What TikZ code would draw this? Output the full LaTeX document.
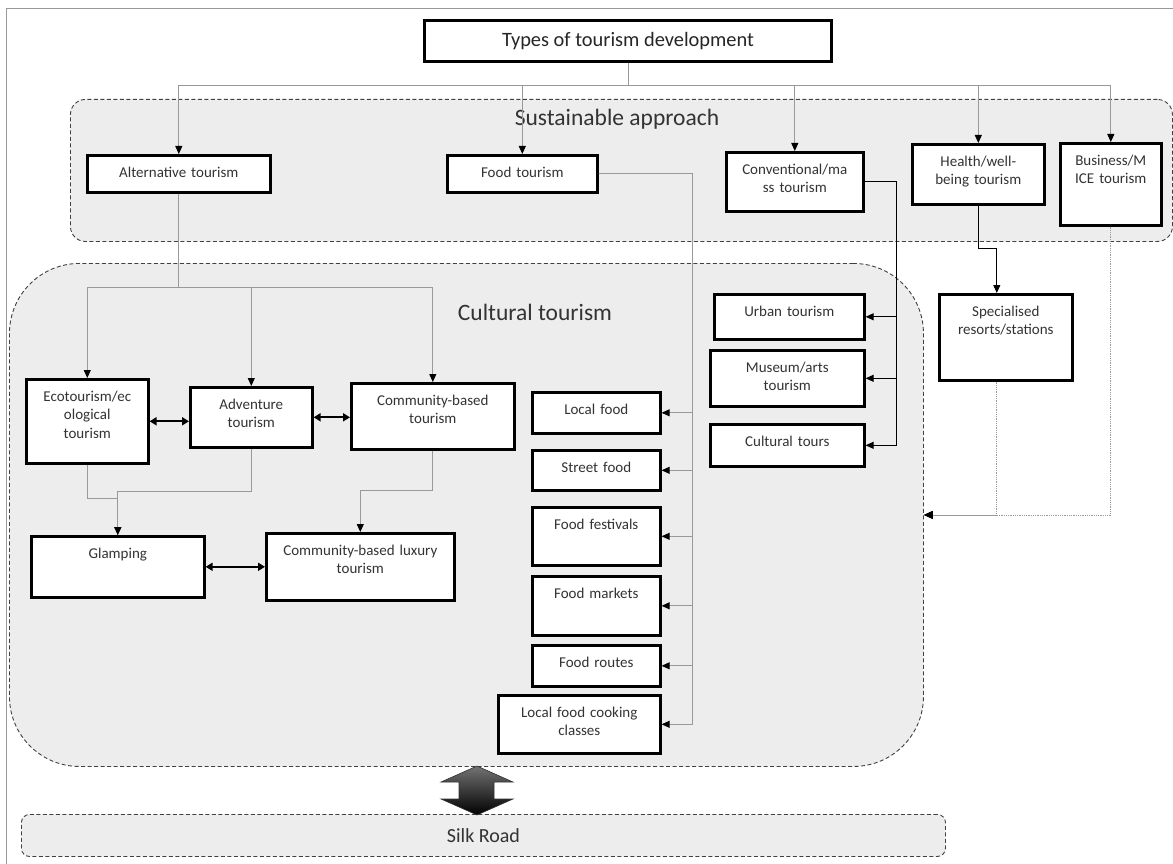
\documentclass[tikz,border=0pt]{standalone}
\usepackage{fontspec}
\setmainfont{Carlito}
\usetikzlibrary{arrows.meta}

\begin{document}
\begin{tikzpicture}[x=1pt,y=-1pt,
  zone/.style={draw=black!75, dash pattern=on 4pt off 2.5pt, line width=0.9pt, fill=black!7, anchor=north west, inner sep=0pt},
  heading/.style={font=\fontsize{23.5}{28}\selectfont, text=black!80},
  topbox/.style={draw=black, line width=3pt, fill=white, font=\fontsize{20.4}{24}\selectfont, text=black!85, minimum width=407pt, minimum height=41pt},
  box/.style={draw=black, line width=2.6pt, fill=white, anchor=north west, inner xsep=0pt, inner ysep=0pt, text width=#1, minimum width=#1, align=center, text height=22pt, font=\fontsize{15}{18.5}\selectfont, text=black!80},
  gline/.style={draw=black!40, line width=0.9pt, -{Triangle[length=8pt,width=7pt,color=black]}},
  bline/.style={draw=black, line width=0.9pt, -{Triangle[length=8pt,width=7pt]}},
  dline/.style={draw=black!40, line width=0.8pt, densely dotted, -{Triangle[length=9pt,width=8pt,color=black]}},
  twoway/.style={draw=black, line width=2.2pt, {Triangle[length=7pt,width=8pt]}-{Triangle[length=7pt,width=8pt]}},
  bigarrow/.style={draw=black!80, line width=0.6pt, top color=black!55, bottom color=black}
]
\fill[white] (0,0) rectangle (1173,864);
\useasboundingbox (0,0) rectangle (1173,864);
\draw[black!40, line width=1pt] (6,864) |- (1173,9);

% grey areas:
\node[zone, rounded corners=15pt, minimum width=1102pt, minimum height=142pt] (sustain) at (70,99) {};
\node[zone, rounded corners=70pt, minimum width=914pt, minimum height=503pt] (cult) at (9,263) {};
\node[zone, rounded corners=8pt, minimum width=924pt, minimum height=42pt, font=\fontsize{20}{24}\selectfont, text=black!80] (silk) at (21,814) {Silk Road};
\node[heading] (sustainlbl) at (617,119) {Sustainable approach};
\node[heading] (cultlbl) at (535,312) {Cultural tourism};

% top level:
\node[topbox] (dev) at (628,41) {Types of tourism development};
\node[box=183pt, text depth=15pt] (alt) at (86,154) {Alternative tourism};
\node[box=150pt, text depth=15pt] (food) at (446,154) {Food tourism};
\node[box=137pt, text depth=37pt] (conv) at (725,151) {Conventional/ma\\ss tourism};
\node[box=132pt, text depth=38pt] (health) at (911,143) {Health/well-\\being tourism};
\node[box=101pt, text depth=60pt] (biz) at (1059,142) {Business/M\\ICE tourism};

% alternative branch:
\node[box=122pt, text depth=62pt] (eco) at (25,378) {Ecotourism/ec\\ological\\tourism};
\node[box=122pt, text depth=38pt] (adv) at (189,386) {Adventure\\tourism};
\node[box=163pt, text depth=44pt] (cbt) at (350,382) {Community-based\\tourism};
\node[box=173pt, text depth=39pt] (glamp) at (30,535) {Glamping};
\node[box=188pt, text depth=45pt] (cblt) at (265,532) {Community-based luxury\\tourism};

% food branch:
\node[box=128pt, text depth=19pt] (lfood) at (531,391) {Local food};
\node[box=128pt, text depth=18pt] (sfood) at (531,449) {Street food};
\node[box=128pt, text depth=36pt] (ffest) at (531,506) {Food festivals};
\node[box=128pt, text depth=37pt] (fmark) at (531,575) {Food markets};
\node[box=128pt, text depth=19pt] (froute) at (531,644) {Food routes};
\node[box=162pt, text depth=36pt] (fcook) at (497,694) {Local food cooking\\classes};

% mass and health branches:
\node[box=150pt, text depth=23pt] (urban) at (713,293) {Urban tourism};
\node[box=154pt, text depth=34pt] (museum) at (709,349) {Museum/arts\\tourism};
\node[box=154pt, text depth=20pt] (ctours) at (709,423) {Cultural tours};
\node[box=133pt, text depth=64pt] (spec) at (938,293) {Specialised\\resorts/stations};

\coordinate (fx) at (692,174);
\coordinate (cx) at (896,182);

% connectors:
\draw[gline] (dev.south) -- ++(0,22) -| (alt.north);
\draw[gline] (dev.south) -- ++(0,22) -| (food.north);
\draw[gline] (dev.south) -- ++(0,22) -| (conv.north);
\draw[gline] (dev.south) -- ++(0,22) -| (health.north);
\draw[gline] (dev.south) -- ++(0,22) -| (biz.north);
\draw[gline] (alt.south) -- ++(0,94) -| (eco.north);
\draw[gline] (alt.south) -- ++(0,94) -| (adv.north);
\draw[gline] (alt.south) -- ++(0,94) -| (cbt.north);
\draw[gline] (eco.south) -- ++(0,34) -| (glamp.north);
\draw[gline] (adv.south) -- ++(0,43) -| (glamp.north);
\draw[gline] (cbt.south) -- ++(0,40) -| (cblt.north);
\draw[twoway] (eco.east) -- (eco.east -| adv.west);
\draw[twoway] (adv.east) -- (adv.east -| cbt.west);
\draw[twoway] (glamp.east) -- (glamp.east -| cblt.west);
\draw[gline] (food.east) -| (fx |- lfood.east) -- (lfood.east);
\draw[gline] (food.east) -| (fx |- sfood.east) -- (sfood.east);
\draw[gline] (food.east) -| (fx |- ffest.east) -- (ffest.east);
\draw[gline] (food.east) -| (fx |- fmark.east) -- (fmark.east);
\draw[gline] (food.east) -| (fx |- froute.east) -- (froute.east);
\draw[gline] (food.east) -| (fx |- fcook.east) -- (fcook.east);
\draw[bline] (conv.east) -| (cx |- urban.east) -- (urban.east);
\draw[bline] (conv.east) -| (cx |- museum.east) -- (museum.east);
\draw[bline] (conv.east) -| (cx |- ctours.east) -- (ctours.east);
\draw[bline] (health.south) -- ++(0,43) -| ([xshift=-9pt]spec.north);
\draw[dline] ([xshift=-9pt]spec.south) |- (cult.east);
\draw[dline] (biz.south) |- (cult.east);

% link to the Silk Road:
\draw[bigarrow] (477,766) -- (513,782) -- (494,782) -- (494,799) -- (513,799) -- (477,815) -- (441,799) -- (459,799) -- (459,782) -- (441,782) -- cycle;

\end{tikzpicture}
\end{document}
